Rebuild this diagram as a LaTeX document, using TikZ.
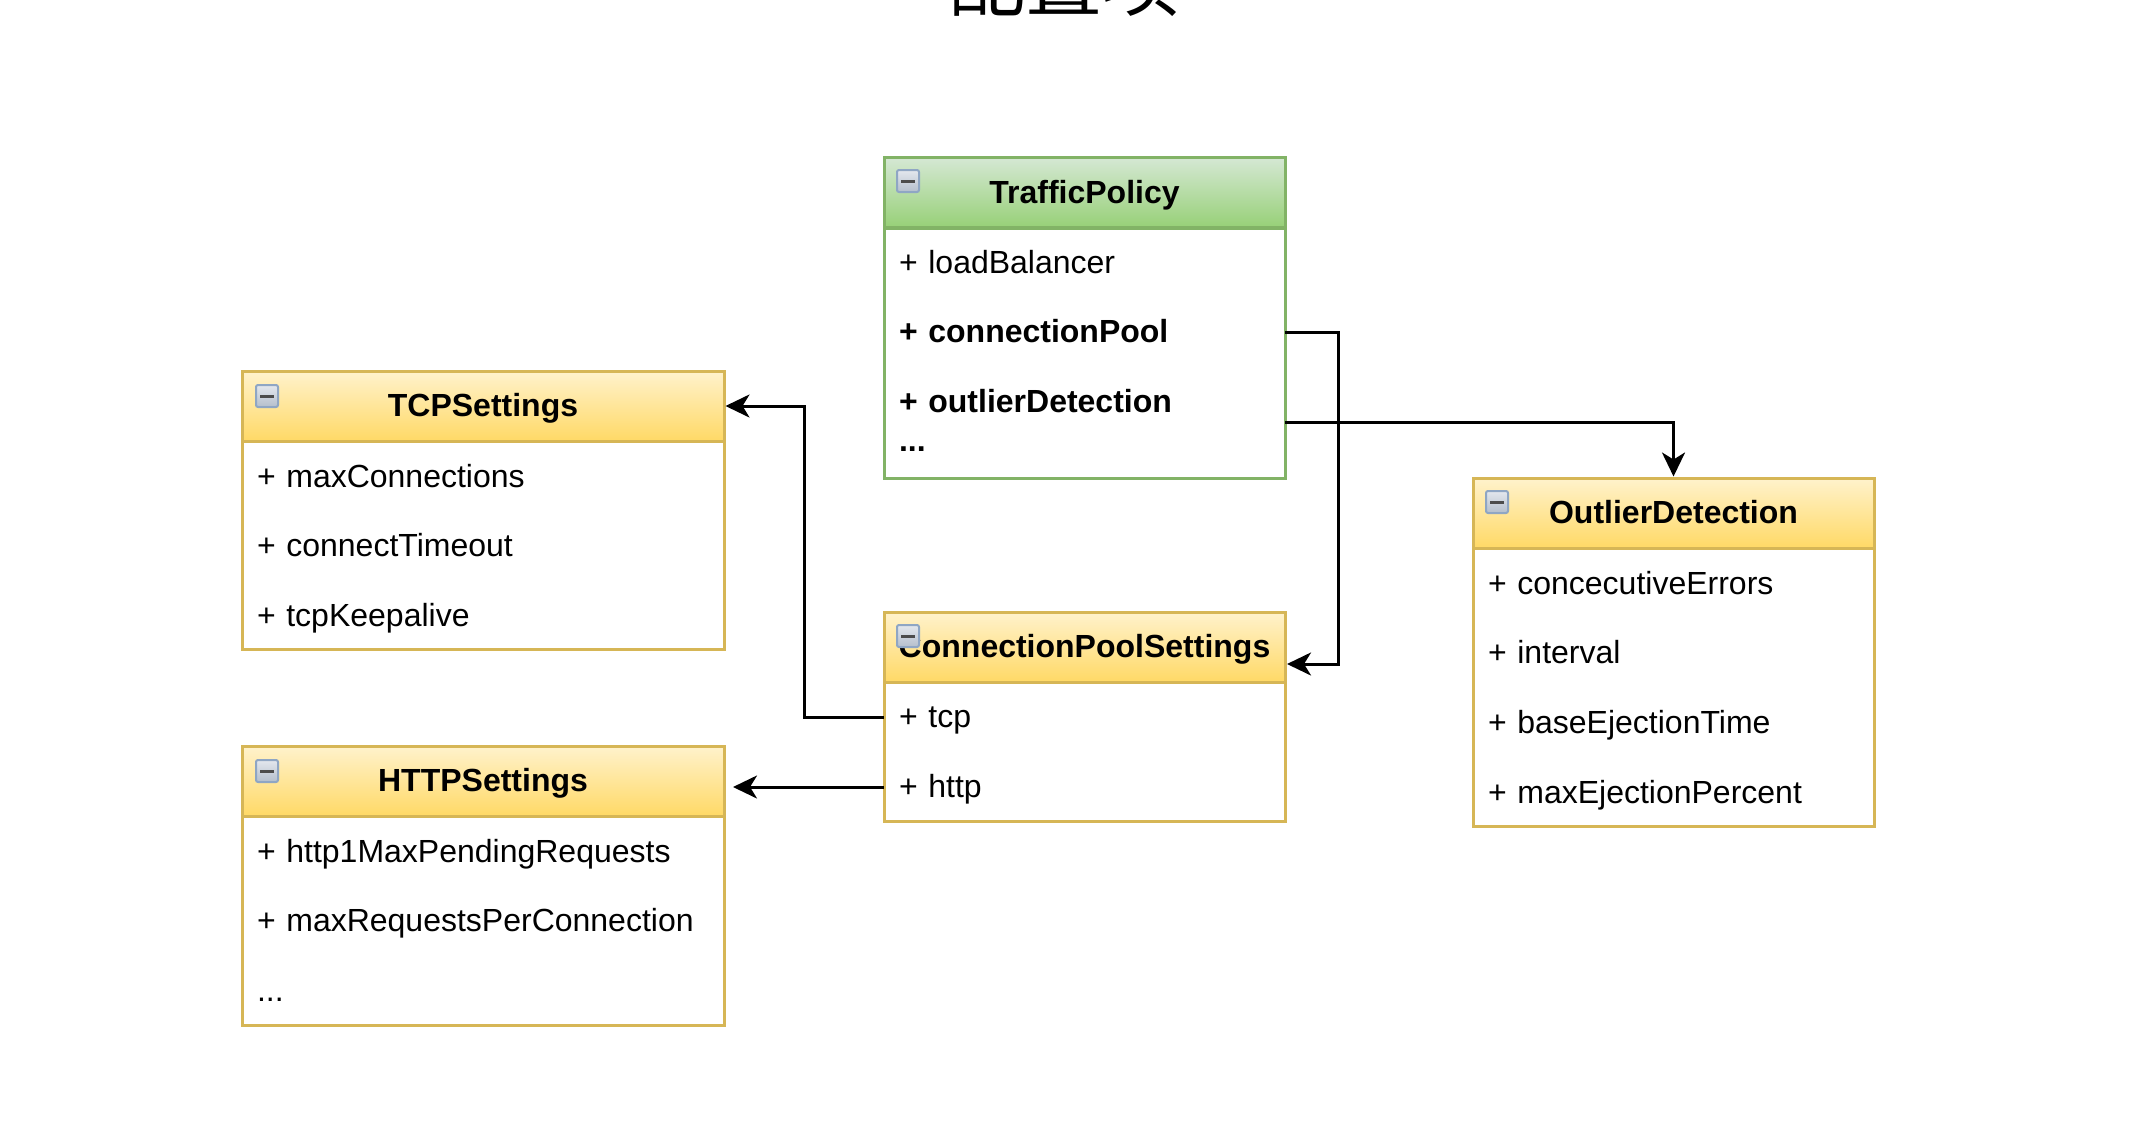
\documentclass[tikz,border=0pt]{standalone}
\usepackage{fontspec}
\setmainfont{Liberation Sans}
\newfontfamily\cjk{Noto Sans CJK SC}
\usetikzlibrary{arrows.meta}
\definecolor{greenline}{HTML}{82B366}
\definecolor{greentop}{HTML}{D5E8D4}
\definecolor{greenbot}{HTML}{97D077}
\definecolor{yellowline}{HTML}{D6B656}
\definecolor{yellowtop}{HTML}{FFF2CC}
\definecolor{yellowbot}{HTML}{FFD966}
\definecolor{icontop}{HTML}{E4E8EE}
\definecolor{iconbot}{HTML}{B4BECC}
\definecolor{iconline}{HTML}{8FA6C4}
\begin{document}
\begin{tikzpicture}[
		x=0.5pt, y=-0.5pt,
		head/.style={draw, line width=1.5pt, inner sep=0pt, minimum height=35pt, text height=13pt, text depth=2.5pt, font=\fontsize{16}{20}\selectfont\bfseries},
		greenhead/.style={head, draw=greenline, top color=greentop, bottom color=greenbot},
		yellowhead/.style={head, draw=yellowline, top color=yellowtop, bottom color=yellowbot},
		body/.style={draw, line width=1.5pt, fill=white, inner sep=0pt},
		attr/.style={align=left, text width=#1, inner xsep=7.5pt, inner ysep=0pt, minimum height=35pt, text height=13pt, text depth=2.5pt, font=\fontsize{16}{20}\selectfont},
		boldattr/.style={attr=#1, font=\fontsize{16}{20}\selectfont\bfseries},
		minusicon/.style={draw=iconline, top color=icontop, bottom color=iconbot, rounded corners=1pt, line width=1pt, inner sep=0pt, minimum width=11pt, minimum height=11pt,
			path picture={\draw[line width=1.5pt, black!70] ([xshift=2pt]path picture bounding box.west) -- ([xshift=-2pt]path picture bounding box.east);}},
		arrow/.style={-{Stealth[length=12pt, width=11.5pt, inset=3.5pt]}, line width=1.5pt},
	]
	\path[use as bounding box, clip] (0, 0) rectangle (2134, 1146);

	\node[font=\cjk\fontsize{38.5}{40}\selectfont, inner sep=0pt] (title) at (1064, -17) {配置项};

	% TrafficPolicy
	\node[body, draw=greenline, minimum width=200.5pt, minimum height=125pt] (trafficBody) at (1084.5, 353) {};
	\node[greenhead, minimum width=200.5pt] (trafficHead) at (1084.5, 192.5) {TrafficPolicy};
	\node[minusicon] (trafficIcon) at (908, 181) {};
	\node[attr=185.5pt] (loadBalancer) at (1084.5, 263) {+ loadBalancer};
	\node[boldattr=185.5pt] (connectionPool) at (1084.5, 332) {+ connectionPool};
	\node[boldattr=185.5pt] (outlierRow) at (1084.5, 402) {+ outlierDetection};
	\node[boldattr=185.5pt] (trafficMore) at (1084.5, 441) {...};

	% TCPSettings
	\node[body, draw=yellowline, minimum width=241pt, minimum height=139pt] (tcpBody) at (483, 510) {};
	\node[yellowhead, minimum width=241pt] (tcpHead) at (483, 406) {TCPSettings};
	\node[minusicon] (tcpIcon) at (267, 396) {};
	\node[attr=226pt] (maxConnections) at (483, 477) {+ maxConnections};
	\node[attr=226pt] (connectTimeout) at (483, 546) {+ connectTimeout};
	\node[attr=226pt] (tcpKeepalive) at (483, 616) {+ tcpKeepalive};

	% HTTPSettings
	\node[body, draw=yellowline, minimum width=241pt, minimum height=139.5pt] (httpBody) at (483, 885.5) {};
	\node[yellowhead, minimum width=241pt] (httpHead) at (483, 781) {HTTPSettings};
	\node[minusicon] (httpIcon) at (267, 771) {};
	\node[attr=226pt] (http1Max) at (483, 852) {+ http1MaxPendingRequests};
	\node[attr=226pt] (maxRequests) at (483, 921) {+ maxRequestsPerConnection};
	\node[attr=226pt] (httpMore) at (483, 991) {...};

	% ConnectionPoolSettings
	\node[body, draw=yellowline, minimum width=200.5pt, minimum height=104.5pt] (poolBody) at (1084.5, 716.5) {};
	\node[yellowhead, minimum width=200.5pt] (poolHead) at (1084.5, 647) {ConnectionPoolSettings};
	\node[minusicon] (poolIcon) at (908, 636) {};
	\node[attr=185.5pt] (tcpRow) at (1084.5, 717) {+ tcp};
	\node[attr=185.5pt] (httpRow) at (1084.5, 787) {+ http};

	% OutlierDetection
	\node[body, draw=yellowline, minimum width=200.5pt, minimum height=174pt] (outlierBody) at (1673.5, 652) {};
	\node[yellowhead, minimum width=200.5pt] (outlierHead) at (1673.5, 513) {OutlierDetection};
	\node[minusicon] (outlierIcon) at (1497, 502) {};
	\node[attr=185.5pt] (concecutiveErrors) at (1673.5, 584) {+ concecutiveErrors};
	\node[attr=185.5pt] (interval) at (1673.5, 653) {+ interval};
	\node[attr=185.5pt] (baseEjectionTime) at (1673.5, 723) {+ baseEjectionTime};
	\node[attr=185.5pt] (maxEjectionPercent) at (1673.5, 793) {+ maxEjectionPercent};

	\coordinate (poolIn) at (1287, 664);
	\coordinate (outlierOut) at (1285, 422);
	\coordinate (httpIn) at (733, 787);

	\draw[arrow] (connectionPool.east) -- (1338, 332) |- (poolIn);
	\draw[arrow] (outlierOut) -| (outlierHead.north);
	\draw[arrow] (tcpRow.west) -- (804, 717) |- (tcpHead.east);
	\draw[arrow] (httpRow.west) -- (httpIn);
\end{tikzpicture}
\end{document}
